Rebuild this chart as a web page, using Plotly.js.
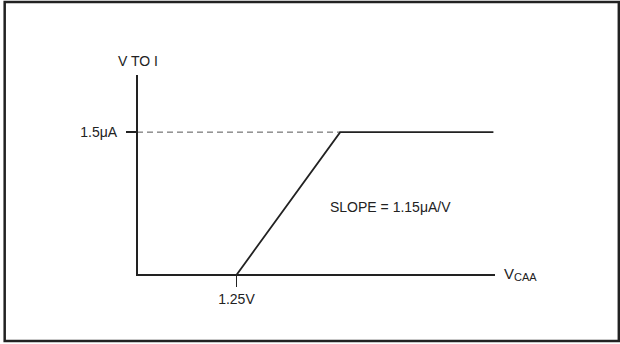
<!DOCTYPE html>
<html><head><meta charset="utf-8">
<script src="https://cdn.plot.ly/plotly-3.0.1.min.js"></script>
<style>html,body{margin:0;padding:0;background:#fff}#chart{width:620px;height:344px}</style>
</head><body><div id="chart"></div>
<script>
// V to I transfer: volts (x) vs microamps (y)
const vcaa = [0, 1.25, 2.554, 4.48];
const current = [0, 0, 1.5, 1.5];
const dashX = [0, 2.554];
const dashY = [1.5, 1.5];
const xTickVals = [1.25];
const xTickText = ['1.25V'];
const yTickVals = [1.5];
const yTickText = ['1.5μA'];
const FONT = '"Liberation Sans", Arial, sans-serif';

const traces = [
  {x: dashX, y: dashY, mode: 'lines', line: {color: '#555', width: 1, dash: '6px,4px'}, hoverinfo: 'skip', cliponaxis: false},
  {x: vcaa, y: current, mode: 'lines', line: {color: '#222', width: 1.8}, hoverinfo: 'skip', cliponaxis: false}
];
const L = 137.5, R = 125, T = 75, B = 70;
const pw = 620 - L - R, ph = 344 - T - B;
const layout = {
  width: 620, height: 344,
  margin: {l: L, r: R, t: T, b: B, pad: 0},
  paper_bgcolor: '#fff', plot_bgcolor: '#fff',
  showlegend: false,
  font: {family: FONT, size: 14, color: '#222'},
  xaxis: {range: [0.0125, 4.5], showgrid: false, zeroline: false, showline: true, linecolor: '#222', linewidth: 2,
    tickvals: xTickVals, ticktext: xTickText, ticks: 'outside', ticklen: 11, tickwidth: 1.5, tickcolor: '#222',
    fixedrange: true},
  yaxis: {range: [0.0105, 2.1], showgrid: false, zeroline: false, showline: true, linecolor: '#222', linewidth: 2,
    tickvals: yTickVals, ticktext: yTickText, ticks: 'outside', ticklen: 10, tickwidth: 1.5, tickcolor: '#222',
    ticklabelstandoff: 6, fixedrange: true},
  shapes: [{type: 'rect', xref: 'paper', yref: 'paper',
    x0: (4 - L) / pw, x1: (619 - L) / pw, y0: (344 - B - 341) / ph, y1: (344 - B - 2) / ph,
    line: {color: '#222', width: 2.5}}],
  annotations: [
    {text: 'V TO I', xref: 'paper', yref: 'paper', x: 0, y: 1, yshift: 14, showarrow: false, xanchor: 'center', yanchor: 'middle'},
    {text: 'V', xref: 'paper', yref: 'paper', x: (502 - L) / pw, y: 0, yshift: 1, showarrow: false, xanchor: 'left', yanchor: 'middle', font: {size: 15}},
    {text: 'CAA', xref: 'paper', yref: 'paper', x: (512 - L) / pw, y: 0, yshift: -3, showarrow: false, xanchor: 'left', yanchor: 'middle', font: {size: 11}},
    {text: 'SLOPE = 1.15μA/V', xref: 'x', yref: 'y', x: 3.19, y: 0.71, showarrow: false, xanchor: 'center', yanchor: 'middle'}
  ]
};
Plotly.newPlot('chart', traces, layout, {displayModeBar: false, staticPlot: true});
</script></body></html>
